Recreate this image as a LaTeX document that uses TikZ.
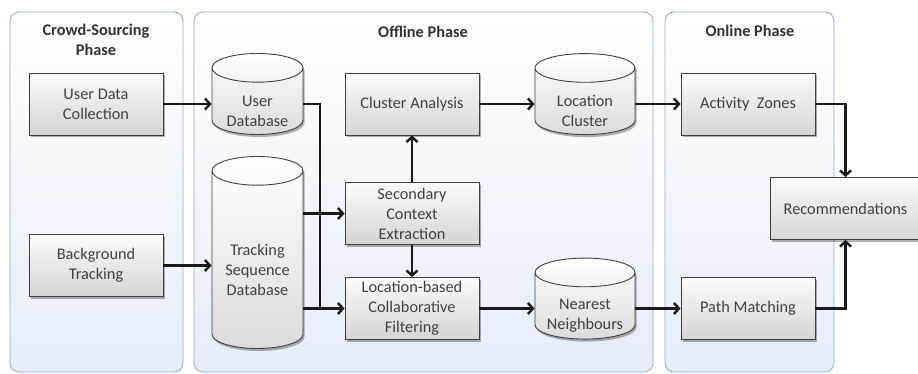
\documentclass[tikz,border=0pt]{standalone}
\usepackage{fontspec}
\setmainfont{Carlito}
\usetikzlibrary{shapes.geometric,shadows,arrows.meta}
\definecolor{panelline}{HTML}{8EAADB}
\definecolor{panelfill}{HTML}{E6EDF8}
\definecolor{labeltext}{HTML}{404040}

\begin{document}
\begin{tikzpicture}[x=1pt,y=-1pt,
    phase/.style={draw=panelline, line width=0.8pt, rounded corners=9pt,
      top color=white, bottom color=panelfill},
    title/.style={font=\fontsize{16.3}{20}\selectfont\bfseries, text=black!80, align=center},
    boxshadow/.style={drop shadow={shadow xshift=1.5pt, shadow yshift=-2.5pt, opacity=.3, fill=black}},
    task/.style={draw=black!75, line width=0.9pt, top color=gray!3, bottom color=gray!33,
      minimum width=134pt, minimum height=62pt, align=center, inner sep=2pt,
      font=\fontsize{16.3}{20}\selectfont, text=labeltext, boxshadow},
    store/.style={cylinder, shape border rotate=90, aspect=0.41, draw=black!75, line width=0.9pt,
      top color=white, bottom color=gray!28, minimum width=91pt, minimum height=81pt,
      text width=66pt, inner sep=2pt, boxshadow},
    storetext/.style={align=center, yshift=-7.5pt, font=\fontsize{16.3}{20}\selectfont, text=labeltext},
    flow/.style={line width=2.4pt, black!90, -{Straight Barb[length=5pt,width=11pt]}}]
    \useasboundingbox (0,0) rectangle (918,374);

    % phases
    \draw[phase] (10,12) rectangle (183,372);
    \draw[phase] (194,12) rectangle (653,372);
    \draw[phase] (665,12) rectangle (834,372);
    \node[title] (tcrowd) at (96,40) {Crowd-Sourcing\\Phase};
    \node[title] (toff) at (423,32) {Offline Phase};
    \node[title] (tonl) at (750,31) {Online Phase};

    % crowd-sourcing
    \node[task] (udc) at (96,104) {User Data\\Collection};
    \node[task] (bgt) at (96,265.5) {Background\\Tracking};

    % offline
    \node[store, label={[storetext]center:User\\Database}] (udb) at (257.5,103.5) {};
    \node[store, minimum height=192pt,
      label={[storetext]center:Tracking\\Sequence\\Database}] (tsd) at (257.5,262) {};
    \node[task] (ca) at (412,104) {Cluster Analysis};
    \node[task] (sce) at (412,213.5) {Secondary\\Context\\Extraction};
    \node[task] (lcf) at (412,308.5) {Location-based\\Collaborative\\Filtering};
    \node[store, minimum width=100pt, label={[storetext]center:Location\\Cluster}] (lc) at (585,103.5) {};
    \node[store, minimum width=100pt, label={[storetext]center:Nearest\\Neighbours}] (nn) at (585,308) {};

    % online
    \node[task] (az) at (748,104) {Activity~~Zones};
    \node[task] (pm) at (748,308.5) {Path Matching};
    \node[task, minimum width=151pt] (rec) at (845.5,208.5) {Recommendations};

    \coordinate (bus) at (320,0);

    \draw[flow] (udc.east) -- (udc.east -| udb.west);
    \draw[flow] (bgt.east) -- (bgt.east -| tsd.west);
    \draw[line width=2.4pt, black!90] (udb.east |- udc.east) -- (bus |- udc.east) -- (bus |- lcf.west);
    \draw[flow] (tsd.east |- sce.west) -- (sce.west);
    \draw[flow] (tsd.east |- lcf.west) -- (lcf.west);
    \draw[flow] (sce.north) -- (ca.south);
    \draw[flow] (sce.south) -- (lcf.north);
    \draw[flow] (ca.east) -- (ca.east -| lc.west);
    \draw[flow] (lcf.east) -- (lcf.east -| nn.west);
    \draw[flow] (lc.east |- az.west) -- (az.west);
    \draw[flow] (nn.east |- pm.west) -- (pm.west);
    \draw[flow] (az.east) -| (rec.north);
    \draw[flow] (pm.east) -| (rec.south);
  \end{tikzpicture}
\end{document}
